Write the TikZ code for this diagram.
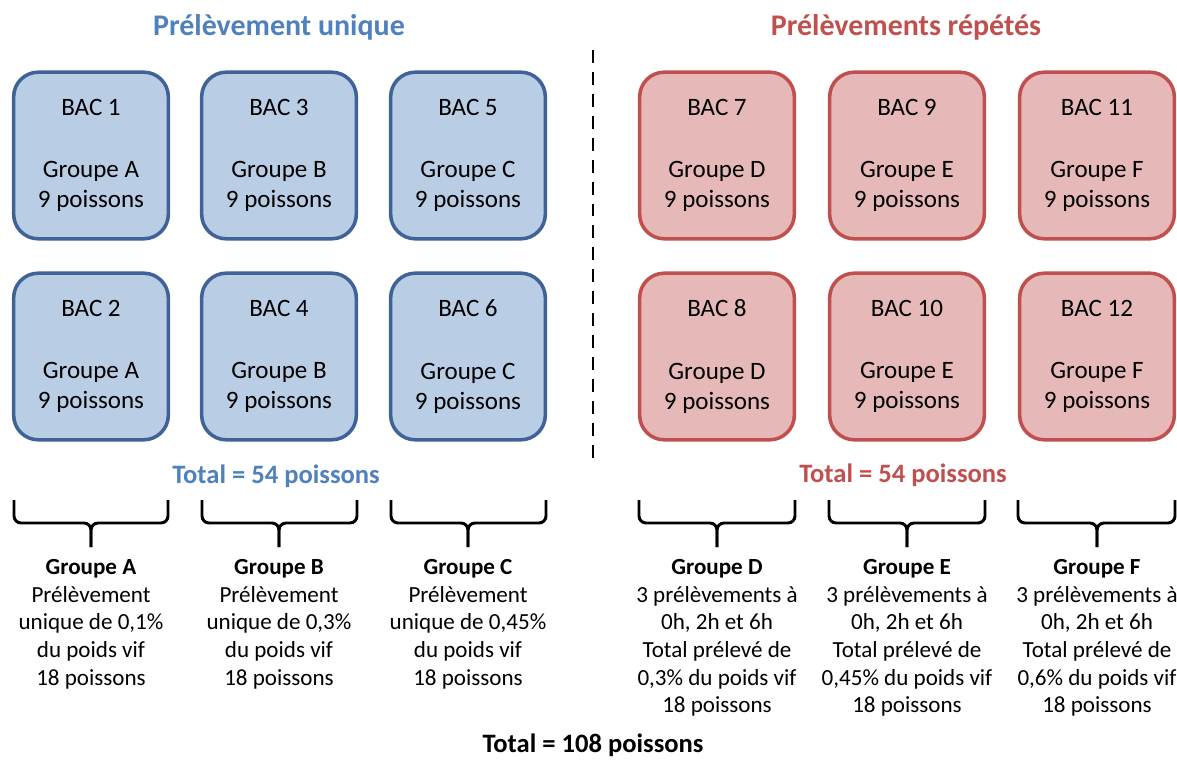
\documentclass[tikz,border=0pt]{standalone}
\usepackage{fontspec}
\setmainfont{Carlito}
\usepackage{tikz}
\usepackage{xcolor}
\usetikzlibrary{shapes, positioning}

\definecolor{bleuFond}{HTML}{B9CDE5}
\definecolor{bleuBord}{HTML}{3F6396}
\definecolor{bleuTitre}{HTML}{4F81BD}
\definecolor{rougeFond}{HTML}{E6B9B8}
\definecolor{rougeBord}{HTML}{C0504D}
\definecolor{rougeTitre}{HTML}{C0504D}

\tikzset{
    bac/.style={rectangle, rounded corners=17.5pt, line width=2.5pt, minimum width=110pt, minimum height=118.5pt, align=center, inner sep=0pt, font=\fontsize{17.8}{21.3}\selectfont},
    bacbleu/.style={bac, draw=bleuBord, fill=bleuFond},
    bacrouge/.style={bac, draw=rougeBord, fill=rougeFond},
    groupe/.style={anchor=north, align=center, inner sep=0pt, font=\fontsize{16.4}{19.7}\selectfont},
    titre/.style={anchor=base, inner sep=0pt, font=\fontsize{21.3}{25}\selectfont\bfseries},
    total/.style={anchor=base, inner sep=0pt, font=\fontsize{18.9}{22}\selectfont\bfseries},
    accolade/.style={line width=2.1pt, rounded corners=5pt}
}

\begin{document}
\begin{tikzpicture}[x=0.025cm, y=-0.025cm]
        \useasboundingbox (0, 0) rectangle (1177, 760);

        % titres
        \node[titre, text=bleuTitre] (titreU) at (279, 36) {Prélèvement unique};
        \node[titre, text=rougeTitre] (titreR) at (906, 36) {Prélèvements répétés};

        % séparation
        \coordinate (sepHaut) at (593, 50);
        \coordinate (sepBas) at (593, 462);
        \draw[line width=2.1pt, dash pattern=on 9.2pt off 6.4pt] (sepHaut) -- (sepBas);

        % bacs, prélèvement unique
        \node[bacbleu] (b1) at (91, 155.5) {BAC 1\\[23pt]Groupe A\\9 poissons};
        \node[bacbleu] (b3) at (279, 155.5) {BAC 3\\[23pt]Groupe B\\9 poissons};
        \node[bacbleu] (b5) at (468, 155.5) {BAC 5\\[23pt]Groupe C\\9 poissons};
        \node[bacbleu] (b2) at (91, 356.5) {BAC 2\\[23pt]Groupe A\\9 poissons};
        \node[bacbleu] (b4) at (279, 356.5) {BAC 4\\[23pt]Groupe B\\9 poissons};
        \node[bacbleu] (b6) at (468, 356.5) {BAC 6\\[23pt]Groupe C\\9 poissons};

        % bacs, prélèvements répétés
        \node[bacrouge] (b7) at (717, 155.5) {BAC 7\\[23pt]Groupe D\\9 poissons};
        \node[bacrouge] (b9) at (907, 155.5) {BAC 9\\[23pt]Groupe E\\9 poissons};
        \node[bacrouge] (b11) at (1097, 155.5) {BAC 11\\[23pt]Groupe F\\9 poissons};
        \node[bacrouge] (b8) at (717, 356.5) {BAC 8\\[23pt]Groupe D\\9 poissons};
        \node[bacrouge] (b10) at (907, 356.5) {BAC 10\\[23pt]Groupe E\\9 poissons};
        \node[bacrouge] (b12) at (1097, 356.5) {BAC 12\\[23pt]Groupe F\\9 poissons};

        \node[total, text=bleuTitre] (totalU) at (276, 483) {Total = 54 poissons};
        \node[total, text=rougeTitre] (totalR) at (903, 482) {Total = 54 poissons};

        % accolades
        \draw[accolade] (14, 500) -- (14, 523) -- (91, 523) -- (91, 547);
        \draw[accolade] (168, 500) -- (168, 523) -- (91, 523) -- (91, 547);
        \draw[accolade] (202, 500) -- (202, 523) -- (279, 523) -- (279, 547);
        \draw[accolade] (357, 500) -- (357, 523) -- (279, 523) -- (279, 547);
        \draw[accolade] (391, 500) -- (391, 523) -- (468, 523) -- (468, 547);
        \draw[accolade] (546, 500) -- (546, 523) -- (468, 523) -- (468, 547);
        \draw[accolade] (639, 500) -- (639, 523) -- (717, 523) -- (717, 547);
        \draw[accolade] (795, 500) -- (795, 523) -- (717, 523) -- (717, 547);
        \draw[accolade] (829, 500) -- (829, 523) -- (907, 523) -- (907, 547);
        \draw[accolade] (985, 500) -- (985, 523) -- (907, 523) -- (907, 547);
        \draw[accolade] (1018, 500) -- (1018, 523) -- (1097, 523) -- (1097, 547);
        \draw[accolade] (1175, 500) -- (1175, 523) -- (1097, 523) -- (1097, 547);

        % groupes
        \node[groupe] (gA) at (91, 559) {\textbf{Groupe A}\\Prélèvement\\unique de 0,1\%\\du poids vif\\18 poissons};
        \node[groupe] (gB) at (279, 559) {\textbf{Groupe B}\\Prélèvement\\unique de 0,3\%\\du poids vif\\18 poissons};
        \node[groupe] (gC) at (468, 559) {\textbf{Groupe C}\\Prélèvement\\unique de 0,45\%\\du poids vif\\18 poissons};
        \node[groupe] (gD) at (717, 559) {\textbf{Groupe D}\\3 prélèvements à\\0h, 2h et 6h\\Total prélevé de\\0,3\% du poids vif\\18 poissons};
        \node[groupe] (gE) at (907, 559) {\textbf{Groupe E}\\3 prélèvements à\\0h, 2h et 6h\\Total prélevé de\\0,45\% du poids vif\\18 poissons};
        \node[groupe] (gF) at (1097, 559) {\textbf{Groupe F}\\3 prélèvements à\\0h, 2h et 6h\\Total prélevé de\\0,6\% du poids vif\\18 poissons};

        \node[total] (totalG) at (593, 752) {Total = 108 poissons};
    \end{tikzpicture}
\end{document}
